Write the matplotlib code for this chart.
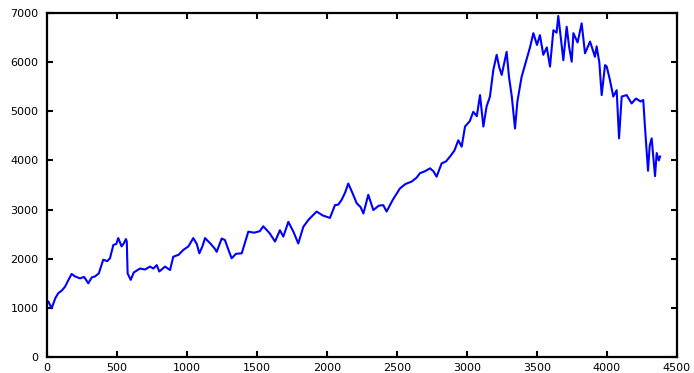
import matplotlib
matplotlib.use("Agg")
import matplotlib.pyplot as plt

# index level sampled along the day count
days = [0, 10, 33, 60, 81, 105, 129, 150, 176, 200, 236, 265, 295, 320, 343, 370,
        402, 430, 450, 474, 495, 509, 533, 550, 564, 570, 576, 598, 620, 664, 700,
        736, 760, 784, 802, 843, 879, 902, 940, 974, 1010, 1045, 1070, 1088, 1110,
        1129, 1170, 1200, 1212, 1248, 1271, 1300, 1319, 1350, 1391, 1438, 1480,
        1520, 1545, 1590, 1629, 1664, 1688, 1724, 1760, 1795, 1831, 1870, 1926,
        1970, 2021, 2057, 2080, 2105, 2130, 2152, 2180, 2212, 2240, 2260, 2295,
        2331, 2370, 2402, 2426, 2470, 2521, 2560, 2605, 2640, 2664, 2700, 2736,
        2760, 2783, 2819, 2850, 2879, 2910, 2938, 2962, 2986, 3020, 3045, 3070,
        3093, 3117, 3140, 3164, 3188, 3212, 3230, 3248, 3283, 3300, 3320, 3343,
        3360, 3390, 3420, 3450, 3474, 3500, 3521, 3545, 3570, 3593, 3617, 3640,
        3652, 3670, 3688, 3712, 3730, 3748, 3760, 3790, 3819, 3843, 3879, 3914,
        3926, 3945, 3962, 3986, 3998, 4020, 4045, 4069, 4086, 4105, 4140, 4176,
        4207, 4240, 4259, 4271, 4293, 4305, 4319, 4343, 4355, 4370, 4379]
level = [1100, 1130, 990, 1200, 1300, 1350, 1430, 1550, 1690, 1640, 1600, 1630,
         1500, 1620, 1640, 1700, 1980, 1950, 2010, 2280, 2300, 2420, 2250, 2320,
         2400, 2350, 1700, 1570, 1720, 1800, 1780, 1840, 1800, 1870, 1740, 1840,
         1770, 2040, 2080, 2180, 2250, 2420, 2300, 2110, 2250, 2420, 2300, 2200,
         2140, 2410, 2380, 2150, 2010, 2100, 2110, 2550, 2530, 2560, 2660, 2520,
         2350, 2580, 2450, 2750, 2550, 2310, 2650, 2800, 2960, 2880, 2830, 3090,
         3100, 3200, 3350, 3530, 3350, 3130, 3050, 2920, 3300, 2990, 3080, 3090,
         2960, 3200, 3430, 3520, 3570, 3650, 3740, 3780, 3840, 3780, 3670, 3940,
         3980, 4080, 4200, 4410, 4280, 4690, 4800, 4990, 4900, 5330, 4690, 5100,
         5300, 5840, 6150, 5900, 5740, 6210, 5700, 5300, 4650, 5200, 5700, 6000,
         6300, 6590, 6350, 6550, 6150, 6300, 5910, 6650, 6600, 6940, 6500, 6040,
         6720, 6300, 6010, 6590, 6400, 6790, 6180, 6420, 6110, 6320, 6000, 5330,
         5940, 5910, 5650, 5300, 5430, 4450, 5300, 5330, 5160, 5260, 5200, 5230,
         4690, 3790, 4300, 4450, 3680, 4150, 4000, 4080]

xticks = [0, 500, 1000, 1500, 2000, 2500, 3000, 3500, 4000, 4500]
yticks = [0, 1000, 2000, 3000, 4000, 5000, 6000, 7000]

plt.rcParams['font.family'] = ['DejaVu Sans']

fig = plt.figure(figsize=(6.94, 3.73), dpi=100)
ax = fig.add_axes([0.0677, 0.0429, 0.9078, 0.9222])

ax.plot(days, level, color='#0000ff', linewidth=1.5)

ax.set_xlim(0, 4500)
ax.set_ylim(0, 7000)
ax.set_xticks(xticks)
ax.set_yticks(yticks)
ax.tick_params(direction='in', length=4, width=1.5, labelsize=8,
               top=True, right=True, colors='black')
ax.tick_params(axis='y', pad=6)
ax.tick_params(axis='x', pad=4)
for s in ax.spines.values():
    s.set_linewidth(1.6)

fig.savefig('out.png', dpi=100)
